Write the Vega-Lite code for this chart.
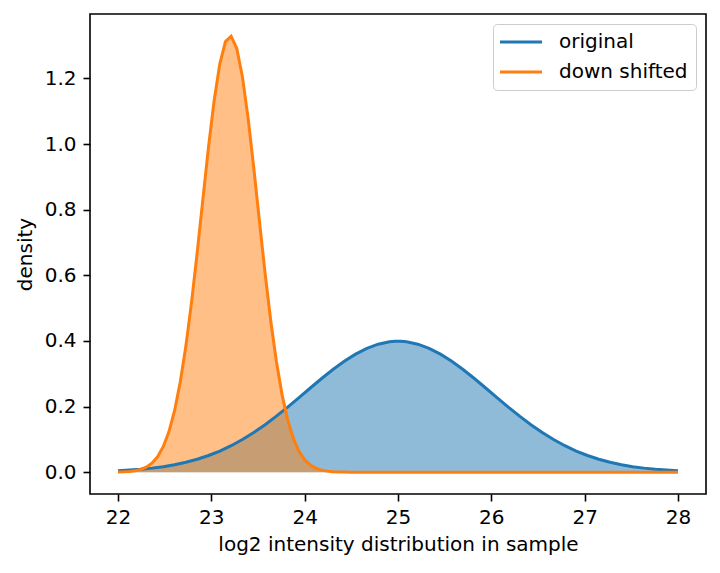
{
  "$schema": "https://vega.github.io/schema/vega-lite/v6.json",
  "width": 616,
  "height": 480,
  "autosize": {"type": "none"},
  "padding": {"left": 90, "top": 14, "right": 14, "bottom": 79},
  "background": "white",
  "config": {
    "font": "DejaVu Sans",
    "view": {"stroke": "#000000", "strokeWidth": 1.6},
    "axis": {
      "domain": false, "grid": false,
      "tickColor": "#000000", "tickWidth": 1.6, "tickSize": 7,
      "labelFontSize": 20, "labelColor": "#000000", "labelPadding": 6,
      "titleFontSize": 20, "titleFontWeight": "normal", "titleColor": "#000000", "titlePadding": 7
    },
    "legend": {
      "orient": "top-right", "offset": 10, "title": null,
      "padding": 8, "strokeColor": "#cccccc", "fillColor": "white", "cornerRadius": 4,
      "labelFontSize": 20, "labelColor": "#000000", "labelOffset": 28,
      "symbolType": "M-3,0H3", "symbolStrokeWidth": 3, "symbolSize": 196, "symbolOffset": 10, "rowPadding": 10
    }
  },
  "data": {"values": [
    {"x": 22.0, "density": 0.00443, "series": "original"},
    {"x": 22.1212, "density": 0.00633, "series": "original"},
    {"x": 22.2424, "density": 0.0089, "series": "original"},
    {"x": 22.3636, "density": 0.01235, "series": "original"},
    {"x": 22.4848, "density": 0.01687, "series": "original"},
    {"x": 22.6061, "density": 0.02272, "series": "original"},
    {"x": 22.7273, "density": 0.03014, "series": "original"},
    {"x": 22.8485, "density": 0.03943, "series": "original"},
    {"x": 22.9697, "density": 0.0508, "series": "original"},
    {"x": 23.0909, "density": 0.0645, "series": "original"},
    {"x": 23.2121, "density": 0.08068, "series": "original"},
    {"x": 23.3333, "density": 0.09948, "series": "original"},
    {"x": 23.4545, "density": 0.12085, "series": "original"},
    {"x": 23.5758, "density": 0.14469, "series": "original"},
    {"x": 23.697, "density": 0.17069, "series": "original"},
    {"x": 23.8182, "density": 0.19844, "series": "original"},
    {"x": 23.9394, "density": 0.22732, "series": "original"},
    {"x": 24.0606, "density": 0.25662, "series": "original"},
    {"x": 24.1818, "density": 0.28546, "series": "original"},
    {"x": 24.303, "density": 0.3129, "series": "original"},
    {"x": 24.4242, "density": 0.338, "series": "original"},
    {"x": 24.5455, "density": 0.35979, "series": "original"},
    {"x": 24.6667, "density": 0.37738, "series": "original"},
    {"x": 24.7879, "density": 0.39007, "series": "original"},
    {"x": 24.9091, "density": 0.3973, "series": "original"},
    {"x": 24.9697, "density": 0.39876, "series": "original"},
    {"x": 25.0303, "density": 0.39876, "series": "original"},
    {"x": 25.0909, "density": 0.3973, "series": "original"},
    {"x": 25.2121, "density": 0.39007, "series": "original"},
    {"x": 25.3333, "density": 0.37738, "series": "original"},
    {"x": 25.4545, "density": 0.35979, "series": "original"},
    {"x": 25.5758, "density": 0.338, "series": "original"},
    {"x": 25.697, "density": 0.3129, "series": "original"},
    {"x": 25.8182, "density": 0.28546, "series": "original"},
    {"x": 25.9394, "density": 0.25662, "series": "original"},
    {"x": 26.0606, "density": 0.22732, "series": "original"},
    {"x": 26.1818, "density": 0.19844, "series": "original"},
    {"x": 26.303, "density": 0.17069, "series": "original"},
    {"x": 26.4242, "density": 0.14469, "series": "original"},
    {"x": 26.5455, "density": 0.12085, "series": "original"},
    {"x": 26.6667, "density": 0.09948, "series": "original"},
    {"x": 26.7879, "density": 0.08068, "series": "original"},
    {"x": 26.9091, "density": 0.0645, "series": "original"},
    {"x": 27.0303, "density": 0.0508, "series": "original"},
    {"x": 27.1515, "density": 0.03943, "series": "original"},
    {"x": 27.2727, "density": 0.03014, "series": "original"},
    {"x": 27.3939, "density": 0.02272, "series": "original"},
    {"x": 27.5152, "density": 0.01687, "series": "original"},
    {"x": 27.6364, "density": 0.01235, "series": "original"},
    {"x": 27.7576, "density": 0.0089, "series": "original"},
    {"x": 27.8788, "density": 0.00633, "series": "original"},
    {"x": 28.0, "density": 0.00443, "series": "original"},
    {"x": 22.0, "density": 0.00045, "series": "down shifted"},
    {"x": 22.0606, "density": 0.00098, "series": "down shifted"},
    {"x": 22.1212, "density": 0.00207, "series": "down shifted"},
    {"x": 22.1818, "density": 0.00419, "series": "down shifted"},
    {"x": 22.2424, "density": 0.00816, "series": "down shifted"},
    {"x": 22.303, "density": 0.01523, "series": "down shifted"},
    {"x": 22.3636, "density": 0.02728, "series": "down shifted"},
    {"x": 22.4242, "density": 0.04694, "series": "down shifted"},
    {"x": 22.4848, "density": 0.07756, "series": "down shifted"},
    {"x": 22.5455, "density": 0.1231, "series": "down shifted"},
    {"x": 22.6061, "density": 0.1873, "series": "down shifted"},
    {"x": 22.6667, "density": 0.2739, "series": "down shifted"},
    {"x": 22.7273, "density": 0.3843, "series": "down shifted"},
    {"x": 22.7879, "density": 0.5177, "series": "down shifted"},
    {"x": 22.8485, "density": 0.6694, "series": "down shifted"},
    {"x": 22.9091, "density": 0.831, "series": "down shifted"},
    {"x": 22.9697, "density": 0.9905, "series": "down shifted"},
    {"x": 23.0303, "density": 1.1332, "series": "down shifted"},
    {"x": 23.0909, "density": 1.2447, "series": "down shifted"},
    {"x": 23.1515, "density": 1.3125, "series": "down shifted"},
    {"x": 23.2121, "density": 1.3287, "series": "down shifted"},
    {"x": 23.2727, "density": 1.2913, "series": "down shifted"},
    {"x": 23.3333, "density": 1.2048, "series": "down shifted"},
    {"x": 23.3939, "density": 1.079, "series": "down shifted"},
    {"x": 23.4545, "density": 0.9278, "series": "down shifted"},
    {"x": 23.5152, "density": 0.7659, "series": "down shifted"},
    {"x": 23.5758, "density": 0.6069, "series": "down shifted"},
    {"x": 23.6364, "density": 0.4617, "series": "down shifted"},
    {"x": 23.697, "density": 0.3372, "series": "down shifted"},
    {"x": 23.7576, "density": 0.2365, "series": "down shifted"},
    {"x": 23.8182, "density": 0.1592, "series": "down shifted"},
    {"x": 23.8788, "density": 0.1028, "series": "down shifted"},
    {"x": 23.9394, "density": 0.0638, "series": "down shifted"},
    {"x": 24.0, "density": 0.038, "series": "down shifted"},
    {"x": 24.0606, "density": 0.0217, "series": "down shifted"},
    {"x": 24.1212, "density": 0.0119, "series": "down shifted"},
    {"x": 24.1818, "density": 0.0063, "series": "down shifted"},
    {"x": 24.2424, "density": 0.0032, "series": "down shifted"},
    {"x": 24.303, "density": 0.0015, "series": "down shifted"},
    {"x": 24.3636, "density": 0.0007, "series": "down shifted"},
    {"x": 24.4242, "density": 0.0003, "series": "down shifted"},
    {"x": 24.4848, "density": 0.0001, "series": "down shifted"},
    {"x": 24.5455, "density": 0.0, "series": "down shifted"},
    {"x": 25.0, "density": 0.0, "series": "down shifted"},
    {"x": 26.0, "density": 0.0, "series": "down shifted"},
    {"x": 27.0, "density": 0.0, "series": "down shifted"},
    {"x": 28.0, "density": 0.0, "series": "down shifted"}
  ]},
  "encoding": {
    "x": {
      "field": "x", "type": "quantitative",
      "scale": {"domain": [21.7, 28.3], "nice": false, "zero": false},
      "axis": {"values": [22, 23, 24, 25, 26, 27, 28], "format": "d", "title": "log2 intensity distribution in sample"}
    },
    "y": {
      "field": "density", "type": "quantitative", "stack": null,
      "scale": {"domain": [-0.0665, 1.3965], "nice": false, "zero": false},
      "axis": {"values": [0, 0.2, 0.4, 0.6, 0.8, 1.0, 1.2], "format": ".1f", "title": "density", "labelPadding": 7, "titlePadding": 9}
    }
  },
  "layer": [
    {
      "transform": [{"filter": "datum.series == 'original'"}],
      "mark": {"type": "area", "opacity": 0.5, "color": "#1f77b4"},
      "encoding": {}
    },
    {
      "transform": [{"filter": "datum.series == 'down shifted'"}],
      "mark": {"type": "area", "opacity": 0.5, "color": "#ff7f0e"},
      "encoding": {}
    },
    {
      "transform": [{"filter": "datum.series == 'original'"}],
      "mark": {"type": "line", "strokeWidth": 3},
      "encoding": {
        "color": {"field": "series", "type": "nominal",
          "scale": {"domain": ["original", "down shifted"], "range": ["#1f77b4", "#ff7f0e"]}}
      }
    },
    {
      "transform": [{"filter": "datum.series == 'down shifted'"}],
      "mark": {"type": "line", "strokeWidth": 3},
      "encoding": {
        "color": {"field": "series", "type": "nominal",
          "scale": {"domain": ["original", "down shifted"], "range": ["#1f77b4", "#ff7f0e"]}}
      }
    }
  ]
}
